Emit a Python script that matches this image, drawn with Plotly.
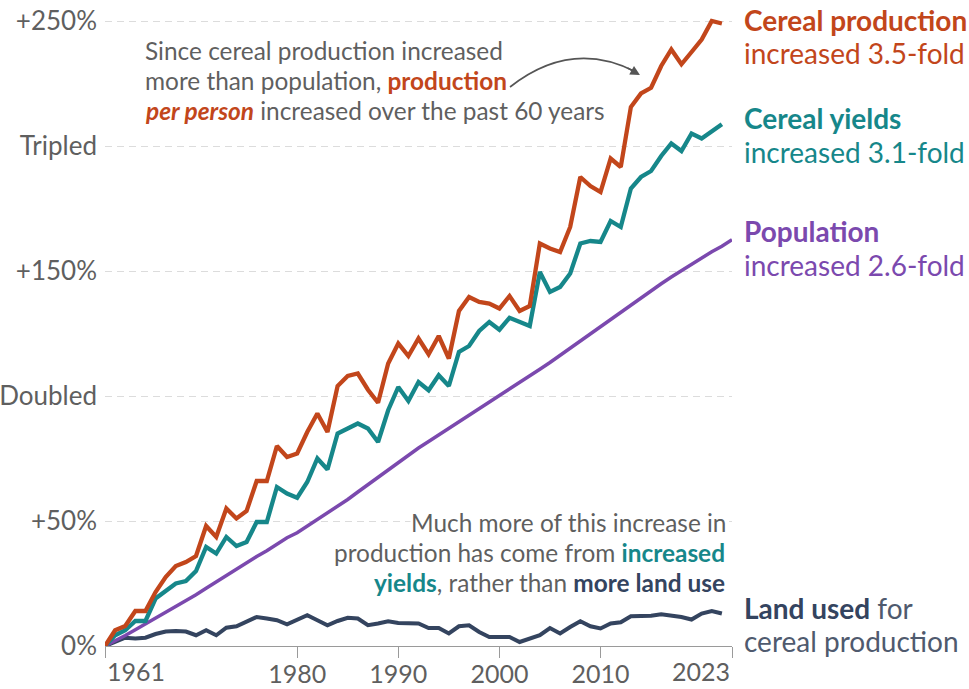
import plotly.graph_objects as go

years = list(range(1961, 2023))
pop_years = list(range(1961, 2024))

production = [0, 6.3, 8, 14, 14, 21.6, 27.6, 32, 33.6, 36,
              48, 43.6, 55, 51, 54, 66, 66, 80, 75.6, 77,
              85.6, 93, 85.6, 104, 108, 109, 102.5, 97.3, 113, 121,
              116, 123, 116.7, 124, 115, 134, 139.6, 137.6, 137, 135,
              140, 134, 136, 161, 159, 157.6, 167.6, 187.6, 184, 181.6,
              195, 191.6, 215.6, 221, 223.3, 232, 238.6, 232.7, 237.6, 242.6, 250, 249]

yields = [0, 4.3, 6.3, 10, 10, 19, 22, 25, 26, 30,
          39.6, 37, 43.6, 40, 41.6, 49.6, 49.6, 63.6, 61, 59.3,
          65.6, 75, 70.6, 85, 87, 89, 87, 81.6, 94.3, 103.6,
          98, 105.6, 102.3, 108.3, 104, 117.6, 120, 126, 129.6, 126.5,
          131.3, 129.6, 128, 149.6, 141.6, 143.6, 149, 161, 162, 161.6,
          170, 167.6, 183, 187.6, 190, 196, 201, 198, 205, 203, 206, 208.7]

land = [0, 1.6, 3.3, 3.0, 3.3, 4.8, 5.8, 6.0, 5.8, 4.3,
        6.3, 4.3, 7.3, 7.9, 9.6, 11.6, 11, 10.3, 8.7, 10.3,
        12.3, 10.3, 8.3, 10, 11.3, 11, 8.3, 9, 9.9, 9.2,
        9.2, 9, 7.2, 7.2, 5, 7.9, 8.3, 5.6, 3.6, 3.6,
        3.6, 1.6, 3, 4.3, 7.2, 5, 7.6, 9.9, 7.9, 7,
        9, 9.5, 11.9, 11.9, 12.1, 12.7, 12.3, 11.6, 10.6, 13, 14, 13]

population = [0, 2.0, 4.2, 6.5, 8.8, 11.1, 13.4, 15.6, 17.9, 20.5,
              23.1, 25.7, 28.3, 30.9, 33.2, 35.8, 38.1, 40.7, 43.3, 45.3,
              47.9, 50.8, 53.4, 56.0, 58.6, 61.6, 64.5, 67.4, 70.4, 73.6,
              76.2, 79.2, 81.8, 84.4, 87.0, 89.6, 92.2, 94.8, 97.4, 100.3,
              102.9, 105.5, 108.1, 110.7, 113.4, 116.3, 118.9, 121.8, 124.8, 127.7,
              130.6, 133.6, 136.5, 139.4, 142.0, 144.9, 147.6, 150.2, 152.8, 155.4,
              157.7, 159.9, 162.5]

x_ticks = [1961, 1980, 1990, 2000, 2010, 2023]
x_tick_text = ["", "1980", "1990", "2000", "2010", ""]
y_ticks = [0, 50, 100, 150, 200, 250]
y_tick_text = ["0%", "+50%", "Doubled", "+150%", "Tripled", "+250%"]

ORANGE = "#C2461B"
TEAL = "#16878A"
PURPLE = "#7B49AE"
NAVY = "#34445F"
GRAY = "#5f5f5f"
FORGRAY = "#4f5a6e"
FONT = "Lato"

fig = go.Figure()
fig.add_trace(go.Scatter(x=years, y=land, mode="lines",
                         line=dict(color=NAVY, width=4), cliponaxis=False))
fig.add_trace(go.Scatter(x=pop_years, y=population, mode="lines",
                         line=dict(color=PURPLE, width=3.5), cliponaxis=False))
fig.add_trace(go.Scatter(x=years, y=yields, mode="lines",
                         line=dict(color=TEAL, width=4.3), cliponaxis=False))
fig.add_trace(go.Scatter(x=years, y=production, mode="lines",
                         line=dict(color=ORANGE, width=4.3), cliponaxis=False))

annotations = []

def label(x, y, text, color, size=28, anchor="left", xshift=0, bg=None):
    d = dict(x=x, y=y, xref="x", yref="y", text=text, showarrow=False,
             xanchor=anchor, yanchor="middle", xshift=xshift,
             font=dict(family=FONT, size=size, color=color))
    if bg:
        d["bgcolor"] = bg
        d["borderpad"] = 0
    annotations.append(d)

# right-side labels
label(2023, 250.4, "<b>Cereal production</b>", ORANGE, xshift=10)
label(2023, 237.2, "increased 3.5-fold", ORANGE, xshift=10)
label(2023, 211.2, "<b>Cereal yields</b>", TEAL, xshift=10)
label(2023, 197.6, "increased 3.1-fold", TEAL, xshift=10)
label(2023, 166.0, "<b>Population</b>", PURPLE, xshift=10)
label(2023, 152.4, "increased 2.6-fold", PURPLE, xshift=10)
label(2023, 15.2, f"<b>Land used</b> <span style='color:{FORGRAY}'>for</span>", NAVY, xshift=10)
label(2023, 2.0, "cereal production", FORGRAY, xshift=10)

# top annotation
label(1964.76, 238.4, "Since cereal production increased", GRAY, size=24.4)
label(1964.76, 226.4, f"more than population, <b><span style='color:{ORANGE}'>production</span></b>", GRAY, size=24.4)
label(1964.76, 214.4, f"<b><i><span style='color:{ORANGE}'>per person</span></i></b> increased over the past 60 years", GRAY, size=24.4)

# bottom annotation
label(2022.5, 49.6, "Much more of this increase in", GRAY, size=24.4, anchor="right", bg="white")
label(2022.5, 37.6, f"production has come from <b><span style='color:{TEAL}'>increased</span></b>", GRAY, size=24.4, anchor="right")
label(2022.5, 25.6, f"<b><span style='color:{TEAL}'>yields</span></b>, rather than <b><span style='color:{NAVY}'>more land use</span></b>", GRAY, size=24.4, anchor="right")

# end tick labels aligned to the axis ends
for xv, txt, anc in [(1961, "1961", "left"), (2023, "2023", "right")]:
    annotations.append(dict(x=xv, y=0, xref="x", yref="paper", text=txt, showarrow=False,
                            xanchor=anc, yanchor="middle", yshift=-25,
                            font=dict(family=FONT, size=25, color=GRAY)))

# arrowhead
annotations.append(dict(x=2013.9, y=228.4, xref="x", yref="y", ax=-14, ay=-8,
                        axref="pixel", ayref="pixel", text="", showarrow=True,
                        arrowhead=2, arrowsize=1.2, arrowwidth=1.6, arrowcolor="#555555"))

shapes = [dict(type="path", xref="x", yref="y",
               path="M 2001.05,223.6 Q 2007.08,242.8 2013.4,229.8",
               line=dict(color="#555555", width=1.6))]

fig.update_layout(
    width=969, height=689,
    margin=dict(l=105, r=237, t=15, b=43),
    paper_bgcolor="white", plot_bgcolor="white",
    showlegend=False,
    annotations=annotations,
    shapes=shapes,
    font=dict(family=FONT),
    xaxis=dict(range=[1961, 2023], tickvals=x_ticks, ticktext=x_tick_text,
               ticks="outside", ticklen=11, automargin=False, ticklabelstandoff=-5,
               tickcolor="#9a9a9a", showline=True, linecolor="#9a9a9a", linewidth=1,
               showgrid=False, zeroline=False,
               tickfont=dict(family=FONT, size=25, color=GRAY)),
    yaxis=dict(range=[0, 252.4], tickvals=y_ticks, ticktext=y_tick_text, automargin=False,
               showgrid=True, gridcolor="#dcdcdc", gridwidth=1, griddash="7px,5px",
               zeroline=False, showline=False, ticks="", ticklabelstandoff=7,
               tickfont=dict(family=FONT, size=26, color=GRAY)),
)

fig.write_html("out.html", config={"displayModeBar": False},
               post_script="document.body.style.margin='0';document.body.style.overflow='hidden';")
